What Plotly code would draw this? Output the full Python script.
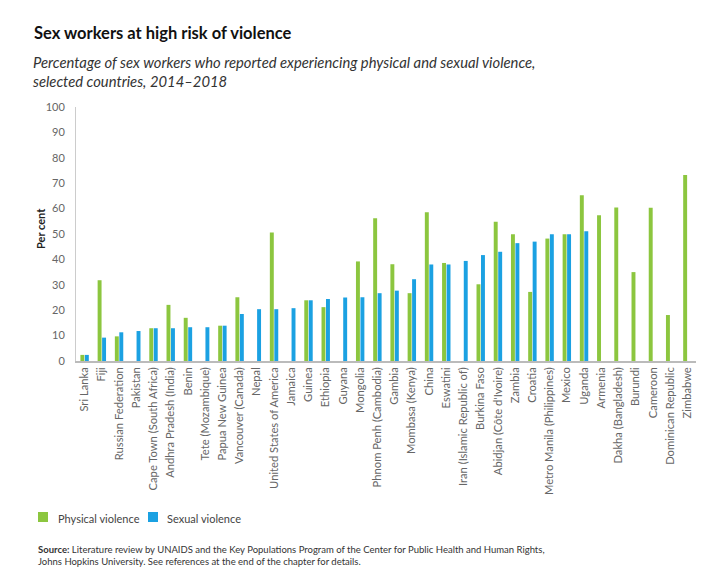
import plotly.graph_objects as go

categories = [
    "Sri Lanka", "Fiji", "Russian Federation", "Pakistan", "Cape Town (South Africa)",
    "Andhra Pradesh (India)", "Benin", "Tete (Mozambique)", "Papua New Guinea",
    "Vancouver (Canada)", "Nepal", "United States of America", "Jamaica", "Guinea",
    "Ethiopia", "Guyana", "Mongolia", "Phnom Penh (Cambodia)", "Gambia",
    "Mombasa (Kenya)", "China", "Eswatini", "Iran (Islamic Republic of)",
    "Burkina Faso", "Abidjan (Côte d'Ivoire)", "Zambia", "Croatia",
    "Metro Manila (Philippines)", "Mexico", "Uganda", "Armenia",
    "Dakha (Bangladesh)", "Burundi", "Cameroon", "Dominican Republic", "Zimbabwe",
]

physical = [
    2.4, 31.8, 9.7, None, 12.9, 22.1, 17.0, None, 13.9, 25.1, None, 50.6, None, 23.9,
    21.2, None, 39.2, 56.2, 38.1, 26.7, 58.6, 38.6, None, 30.2, 54.8, 49.9, 27.2,
    48.2, 49.9, 65.3, 57.4, 60.4, 35.0, 60.3, 18.1, 73.2,
]

sexual = [
    2.4, 9.2, 11.3, 11.8, 12.9, 12.9, 13.3, 13.3, 13.9, 18.5, 20.4, 20.4, 20.8, 23.9,
    24.4, 25.0, 25.1, 26.7, 27.7, 32.2, 38.0, 38.0, 39.4, 41.7, 43.0, 46.4, 47.0,
    49.9, 49.9, 51.1, None, None, None, None, None, None,
]

series_names = ["Physical violence", "Sexual violence"]
y_ticks = list(range(0, 101, 10))

GREEN = "#8CC63F"
BLUE = "#1BA1E2"
FONT = "Lato"

# page body has an 8px margin; work in reference coordinates minus that offset
OFF = 8
W, H = 720 - OFF, 584 - OFF
ML, MR, MT, MB = 76 - OFF, 32 - OFF, 107 - OFF, 223
PW, PH = W - ML - MR, H - MT - MB


def px(xp):
    return (xp - OFF - ML) / PW


def py(yp):
    return (H - MB - (yp - OFF)) / PH


fig = go.Figure()
fig.add_trace(go.Bar(x=categories, y=physical, name=series_names[0],
                     marker=dict(color=GREEN, line=dict(width=0))))
fig.add_trace(go.Bar(x=categories, y=sexual, name=series_names[1],
                     marker=dict(color=BLUE, line=dict(width=0))))

# legend drawn by hand to match the reference's compact spacing
legend_items = [(series_names[0], GREEN, 38, 56), (series_names[1], BLUE, 148, 165)]
shapes = []
annotations = []
for name, col, sx, tx in legend_items:
    shapes.append(dict(type="rect", xref="paper", yref="paper",
                       x0=px(sx), x1=px(sx + 10), y0=py(522), y1=py(512),
                       fillcolor=col, line=dict(width=0)))
    annotations.append(dict(text=name, xref="paper", yref="paper", x=px(tx), y=py(518),
                            xanchor="left", yanchor="middle", showarrow=False,
                            font=dict(size=11, color="#444444", family=FONT)))

annotations += [
    dict(text="<b>Sex workers at high risk of violence</b>", xref="paper", yref="paper",
         x=px(32), y=py(33), xanchor="left", yanchor="middle", showarrow=False,
         font=dict(size=16.5, color="#111111", family=FONT)),
    dict(text="<i>Percentage of sex workers who reported experiencing physical and sexual violence,<br>selected countries, 2014–2018</i>",
         xref="paper", yref="paper", x=px(31), y=py(71), xanchor="left", yanchor="middle",
         showarrow=False, align="left",
         font=dict(size=14.8, color="#333333", family=FONT)),
    dict(text="<b>Per cent</b>", xref="paper", yref="paper", x=px(40), y=py(229),
         xanchor="center", yanchor="middle", showarrow=False, textangle=-90,
         font=dict(size=11, color="#222222", family=FONT)),
    dict(text="<b>Source:</b> Literature review by UNAIDS and the Key Populations Program of the Center for Public Health and Human Rights,<br>Johns Hopkins University. See references at the end of the chapter for details.",
         xref="paper", yref="paper", x=px(36), y=py(555), xanchor="left", yanchor="middle",
         showarrow=False, align="left",
         font=dict(size=9.5, color="#333333", family=FONT)),
]

fig.update_layout(
    width=W, height=H,
    margin=dict(l=ML, r=MR, t=MT, b=MB, autoexpand=False),
    paper_bgcolor="white", plot_bgcolor="white",
    barmode="group", bargap=0.48, bargroupgap=0.12,
    font=dict(family=FONT, color="#555555"),
    showlegend=False,
    xaxis=dict(
        type="category", range=[-0.5, len(categories) - 0.5],
        tickangle=-90, tickfont=dict(size=11.2, color="#666666", family=FONT),
        showline=True, linecolor="#BBBBBB", linewidth=1.5,
        showgrid=False, ticks="", ticklen=0,
    ),
    yaxis=dict(
        range=[0, 100], tickvals=y_ticks, showgrid=False,
        showline=True, linecolor="#CCCCCC", linewidth=1,
        tickfont=dict(size=11, color="#666666", family=FONT),
        ticks="", zeroline=False, ticklabelstandoff=8,
    ),
    shapes=shapes,
    annotations=annotations,
)

fig.write_html("out.html")
